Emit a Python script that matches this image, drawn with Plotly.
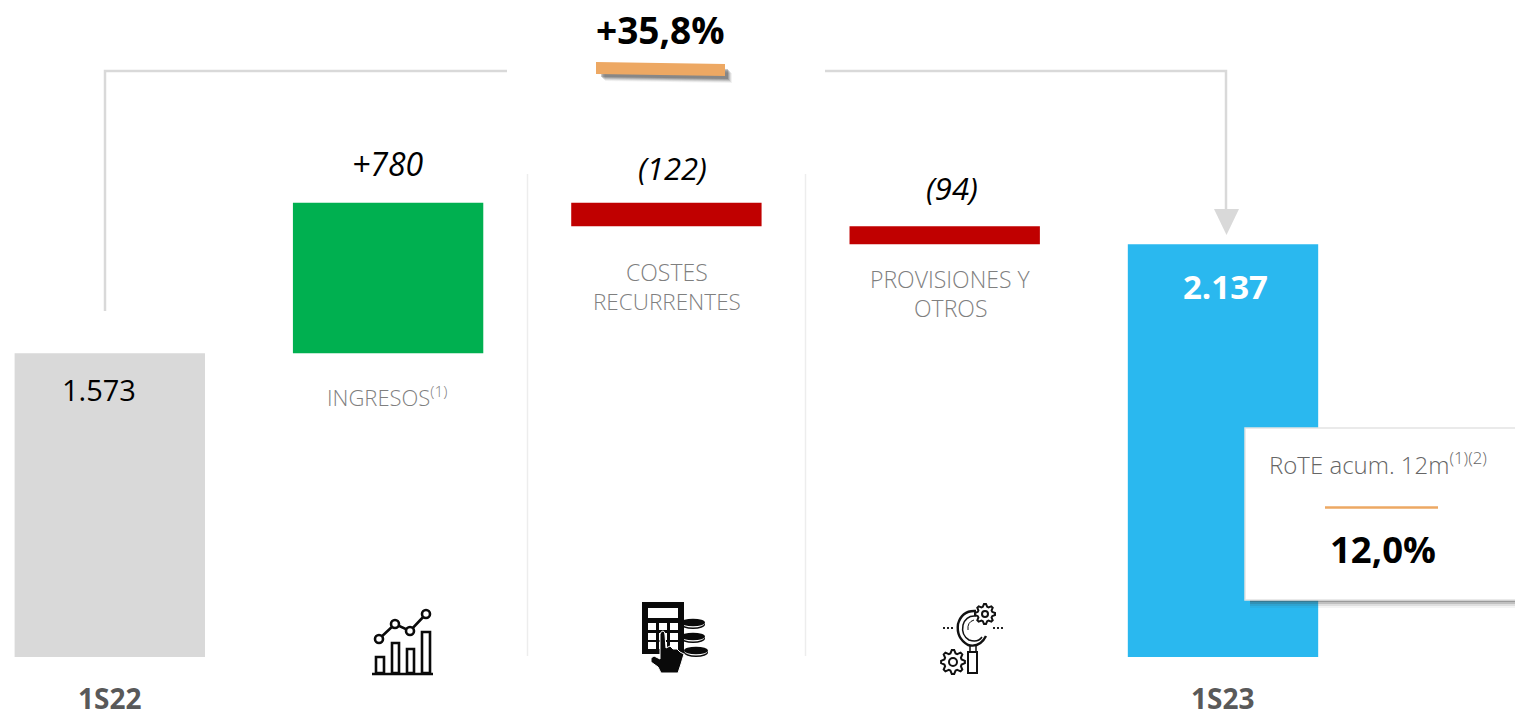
import math
import plotly.graph_objects as go

# ---- data ----
categories = ["1S22", "INGRESOS", "COSTES", "PROVISIONES", "1S23"]
bar_bases = [0, 1573, 2231, 2137, 0]
bar_heights = [1573, 780, 122, 94, 2137]
bar_colors = ["#D9D9D9", "#00B050", "#C00000", "#C00000", "#2AB8EF"]
bar_labels = ["1.573", "+780", "(122)", "(94)", "2.137"]
growth_label = "+35,8%"
rote_title = "RoTE acum. 12m<sup>(1)(2)</sup>"
rote_value = "12,0%"

W, H = 1515, 717
FONT = "Open Sans"
LINE = "#D9D9D9"
ORANGE = "#EDA863"

fig = go.Figure()
fig.add_trace(go.Bar(
    x=list(range(5)), y=bar_heights, base=bar_bases, width=0.684,
    marker=dict(color=bar_colors, line=dict(width=0)),
    hoverinfo="skip", showlegend=False,
))
fig.add_trace(go.Scatter(x=[0], y=[0], xaxis="x2", yaxis="y2", mode="markers",
                         marker=dict(opacity=0), hoverinfo="skip", showlegend=False))

shapes = []


def S(**k):
    k.setdefault("xref", "x2")
    k.setdefault("yref", "y2")
    shapes.append(k)


def path(d, fill=None, color=None, w=0):
    S(type="path", path=d, fillcolor=fill or "rgba(0,0,0,0)",
      line=dict(color=color or "rgba(0,0,0,0)", width=w))


def rect(x0, y0, x1, y1, fill=None, color=None, w=0):
    S(type="rect", x0=x0, y0=y0, x1=x1, y1=y1, fillcolor=fill or "rgba(0,0,0,0)",
      line=dict(color=color or "rgba(0,0,0,0)", width=w))


def circle(cx, cy, rx, ry=None, fill=None, color=None, w=0):
    ry = ry or rx
    S(type="circle", x0=cx - rx, x1=cx + rx, y0=cy - ry, y1=cy + ry,
      fillcolor=fill or "rgba(0,0,0,0)", line=dict(color=color or "rgba(0,0,0,0)", width=w))


def gear(cx, cy, r_out, r_in, r_hole, teeth=8):
    pts = []
    n = teeth * 4
    for i in range(n):
        a = 2 * math.pi * (i - 0.5) / n
        r = r_out if i % 4 in (0, 1) else r_in
        pts.append((cx + r * math.cos(a), cy + r * math.sin(a)))
    d = "M" + " L".join(f"{x:.1f},{y:.1f}" for x, y in pts) + " Z"
    path(d, fill="white", color="#111111", w=2)
    circle(cx, cy, r_hole, fill="white", color="#111111", w=2)


# dividers
for x in (527.5, 805.5):
    S(type="line", x0=x, x1=x, y0=174, y1=656, line=dict(color="#EDEDED", width=1.5))

# growth arrow
path("M105,311 L105,71 L507,71", color=LINE, w=2.5)
path("M825,71 L1226,71 L1226,210", color=LINE, w=2.5)
path("M1214,209 L1239,209 L1226.5,235 Z", fill=LINE)

# orange tag with shadow
for off, a in ((7, 0.07), (6, 0.12), (5, 0.18), (4, 0.24), (3, 0.3)):
    path(f"M{598+off},{64+off} L{725+off},{66+off} L{725+off},{76+off} L{598+off},{74+off} Z",
         fill=f"rgba(70,70,70,{a})")
path("M596,62 L725,64 L725,76 L596,74 Z", fill=ORANGE)

# card with shadow
for off, a in ((8, 0.06), (6, 0.12), (4, 0.2), (2, 0.3)):
    rect(1250, 440, 1515, 600 + off, fill=f"rgba(70,70,70,{a})")
rect(1245, 428, 1516, 600, fill="white", color="#E3E3E3", w=1.5)
S(type="line", x0=1325, x1=1438, y0=507.5, y1=507.5, line=dict(color=ORANGE, width=2.5))

# icon 1: chart
K = "#0A0A0A"
S(type="line", x0=372, x1=433, y0=674, y1=674, line=dict(color=K, width=2.5))
for x0, x1, y0 in ((376, 384, 657), (392, 399, 643), (407, 414, 649), (422, 430, 632)):
    rect(x0, y0, x1, 673, color=K, w=2.6)
path("M379,639 L395,624 L410,631 L426,614", color=K, w=2.6)
for cx, cy in ((379, 639), (395, 624), (410, 631), (426, 614)):
    circle(cx, cy, 4, fill="white", color=K, w=2.6)

# icon 2: calculator with coins and hand
for cx, cy in ((693, 623), (693, 637), (696, 651)):
    circle(cx, cy + 1.5, 12, 4.5, fill=K)
    circle(cx, cy + 0.5, 11.5, 4, fill="white")
    circle(cx, cy - 0.5, 12, 3.8, fill=K)
S(type="rect", x0=643, x1=683, y0=603, y1=653, fillcolor=K, line=dict(color=K, width=2))
rect(648, 608, 678, 618, fill="white")
for x0 in (648, 659, 670):
    for y0 in (623, 633, 642):
        rect(x0, y0, x0 + 8, y0 + 7, fill="white")
path("M660,634 Q661,631 663,631 Q665,631 665,635 L666,648 L670,646 L673,649 L677,649 "
     "L680,652 L684,654 L681,664 L678,673 L661,673 L658,667 L651,662 L651,658 L654,656 L660,659 Z",
     fill=K, color="white", w=1)

# icon 3: magnifier with gears
path("M976,611 Q962,610 958,624 Q956,638 968,645 Q980,648 986,636", color="#111111", w=2.4)
path("M976,616 Q966,615 963,625 Q961,635 969,640 Q978,643 982,637", color="#111111", w=1.5)
path("M968,630 Q967,622 974,620", color="#111111", w=1)
path("M970,645 L970,652 M976,645 L976,652", color="#111111", w=1.5)
rect(968, 652, 977, 673, fill="white", color="#111111", w=2)
gear(985, 614, 10, 7.5, 3)
gear(953, 662, 12, 9, 4)
for x in (944, 948, 952, 994, 998, 1002):
    rect(x - 1, 627, x + 1, 629, fill="#222222")

anns = []


def T(x, y, text, size, color="#000000", weight=None, italic=False):
    f = dict(family=FONT, size=size, color=color)
    if weight:
        f["weight"] = weight
    if italic:
        f["style"] = "italic"
    anns.append(dict(x=x, y=y, xref="x2", yref="y2", text=text,
                     showarrow=False, xanchor="center", yanchor="middle", font=f))


GREY = "#7F7F7F"
T(660, 29, growth_label, 37, weight=700)
T(99, 389, bar_labels[0], 29)
T(388, 163, bar_labels[1], 32, italic=True)
T(672, 168, bar_labels[2], 31, italic=True)
T(952, 188, bar_labels[3], 31, italic=True)
T(1225, 286, bar_labels[4], 33, color="#FFFFFF", weight=700)
T(387, 396, "INGRESOS<sup>(1)</sup>", 22, GREY, weight=300)
T(667, 272, "COSTES", 23, GREY, weight=300)
T(667, 301, "RECURRENTES", 22.5, GREY, weight=300)
T(950, 279, "PROVISIONES Y", 23, GREY, weight=300)
T(950, 308, "OTROS", 23, GREY, weight=300)
T(109, 698, categories[0], 28, "#595959", weight=700)
T(1222, 698, categories[4], 28, "#595959", weight=700)
T(1378, 463, rote_title, 24, "#666666", weight=300)
T(1383, 549, rote_value, 36.5, weight=700)

PX = 278.3
UNIT = 0.1931
fig.update_layout(
    width=W, height=H, autosize=False,
    margin=dict(l=0, r=0, t=0, b=0), paper_bgcolor="white", plot_bgcolor="white",
    showlegend=False, shapes=shapes, annotations=anns,
    xaxis=dict(range=[-109.8 / PX, (W - 109.8) / PX], visible=False, fixedrange=True),
    yaxis=dict(range=[-(H - 657) / UNIT, 657 / UNIT], visible=False, fixedrange=True),
    xaxis2=dict(range=[0, W], overlaying="x", visible=False, fixedrange=True),
    yaxis2=dict(range=[H, 0], overlaying="y", visible=False, fixedrange=True),
)
fig.write_html("out.html", config=dict(displayModeBar=False),
               post_script="document.body.style.margin='0';"
                           "document.documentElement.style.overflow='hidden';")
